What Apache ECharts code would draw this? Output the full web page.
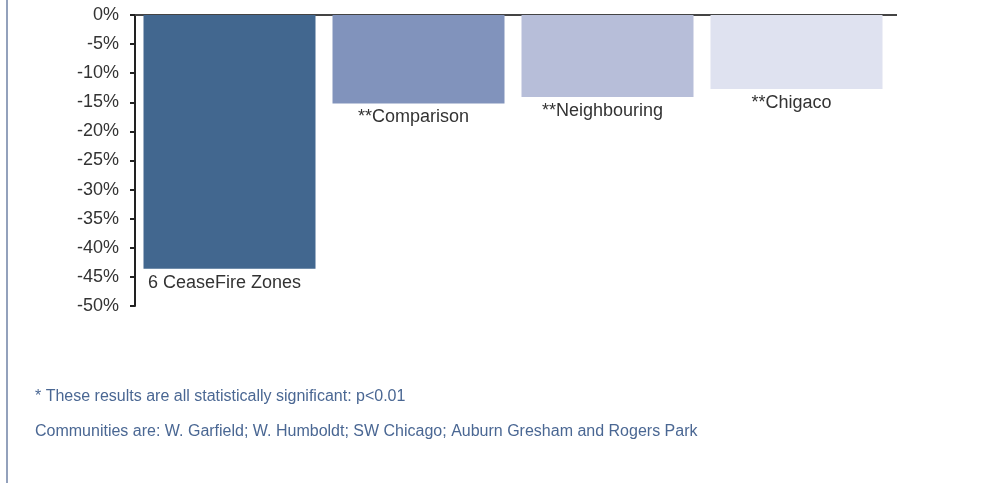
<!DOCTYPE html>
<html>
<head>
<meta charset="utf-8">
<script src="https://cdn.jsdelivr.net/npm/echarts@6/dist/echarts.min.js"></script>
<style>
html,body{margin:0;padding:0;background:#fff;}
#chart{width:988px;height:483px;}
</style>
</head>
<body>
<div id="chart"></div>
<script>
const categories = ['6 CeaseFire Zones', '**Comparison', '**Neighbouring', '**Chigaco'];
const values = [-43.6, -15.2, -14.1, -12.7];
const barColors = ['#42678f', '#8193bc', '#b7bed9', '#dfe2f0'];
const yTicks = [0, -5, -10, -15, -20, -25, -30, -35, -40, -45, -50];
const footnotes = [
  '* These results are all statistically significant: p<0.01',
  'Communities are: W. Garfield; W. Humboldt; SW Chicago; Auburn Gresham and Rogers Park'
];

const chart = echarts.init(document.getElementById('chart'), null, {renderer: 'canvas'});
const font = '"Liberation Sans", Arial, Helvetica, sans-serif';
chart.setOption({
  animation: false,
  backgroundColor: '#fff',
  grid: {left: 135, top: 15, width: 756, height: 291, containLabel: false},
  xAxis: {
    type: 'category',
    data: categories,
    position: 'top',
    axisLine: {show: true, onZero: false, lineStyle: {color: '#444', width: 2}},
    axisTick: {show: false},
    axisLabel: {show: false},
    splitLine: {show: false}
  },
  yAxis: {
    type: 'value',
    min: -50,
    max: 0,
    interval: 5,
    axisLine: {show: true, lineStyle: {color: '#222', width: 2}},
    axisTick: {show: true, length: 5, lineStyle: {color: '#222', width: 2}},
    splitLine: {show: false},
    axisLabel: {
      margin: 16,
      color: '#333',
      fontSize: 18,
      fontFamily: font,
      formatter: v => yTicks.includes(v) ? v + '%' : ''
    }
  },
  series: [{
    type: 'bar',
    barWidth: 172,
    data: values.map((v, i) => ({value: v, itemStyle: {color: barColors[i]}})),
    label: {
      show: true,
      position: 'bottom',
      distance: 5,
      offset: [-5, 0],
      color: '#333',
      fontSize: 18,
      fontFamily: font,
      formatter: p => categories[p.dataIndex]
    }
  }],
  graphic: [
    {type: 'line', shape: {x1: 7, y1: 0, x2: 7, y2: 483}, style: {stroke: '#6f82a6', lineWidth: 1.5}},
    {type: 'line', shape: {x1: 890, y1: 15, x2: 897, y2: 15}, style: {stroke: '#444', lineWidth: 2}},
    {type: 'text', left: 35, top: 389, style: {text: footnotes[0], fill: '#4a6793', font: '16px ' + font}},
    {type: 'text', left: 35, top: 424, style: {text: footnotes[1], fill: '#4a6793', font: '16px ' + font}}
  ]
});
</script>
</body>
</html>
